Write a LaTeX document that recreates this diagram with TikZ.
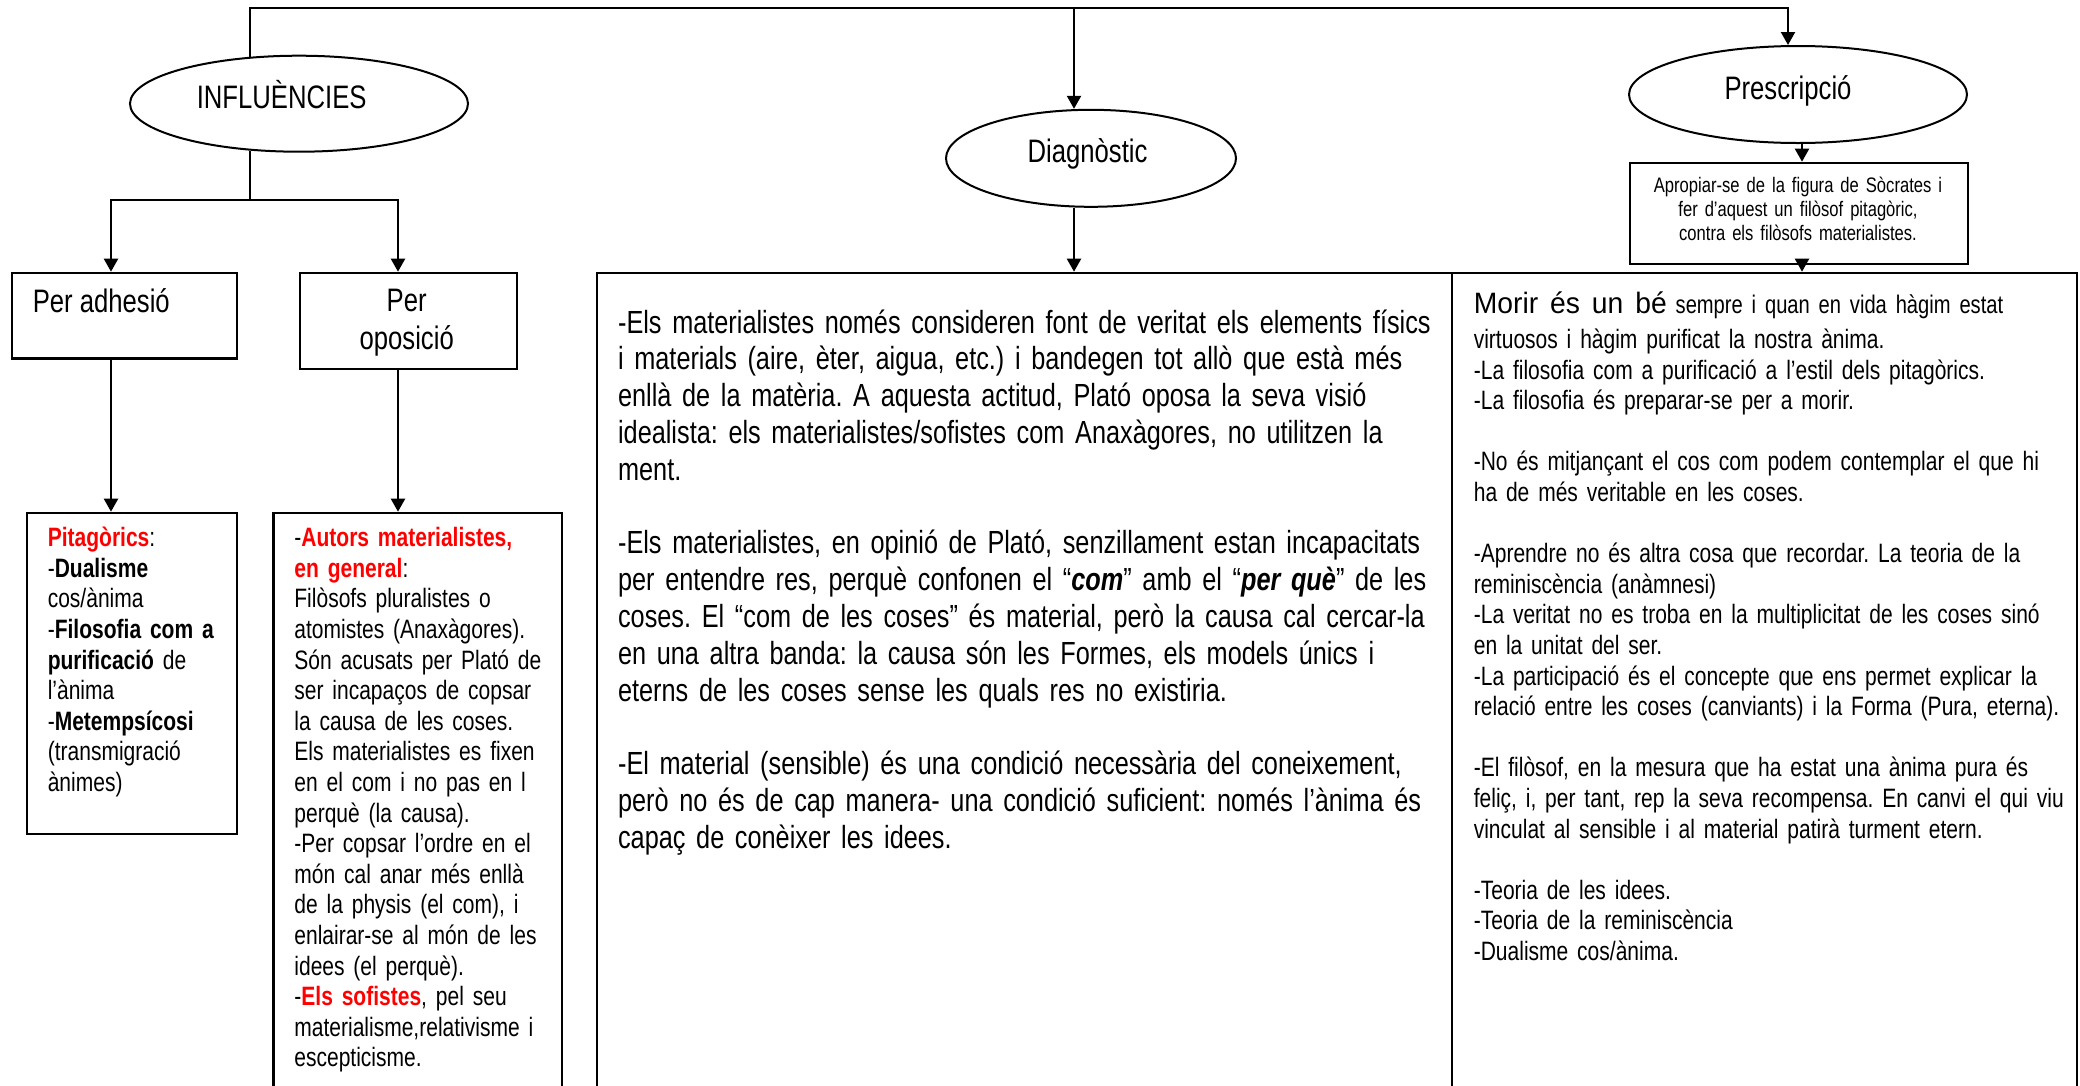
\documentclass[tikz,border=0pt]{standalone}
\usepackage{fontspec}
\setmainfont{Liberation Sans}[FakeStretch=0.79]
\usepackage{graphicx}
\usepackage{xcolor}
\usepackage{tikz}
\usetikzlibrary{positioning}
\usetikzlibrary{arrows.meta,shapes}

\newcommand{\bigsize}{\fontsize{32.5}{37.6}\selectfont}
\newcommand{\bodysize}{\fontsize{32}{36.8}\selectfont}
\newcommand{\medsize}{\fontsize{26.6}{30.6}\selectfont}
\newcommand{\smallsize}{\fontsize{21}{24}\selectfont}
\newcommand{\redbf}[1]{\textcolor{red}{\textbf{#1}}}
\frenchspacing

\begin{document}
\begin{tikzpicture}[x=1pt, y=-1pt, line width=2.2pt,
    >={Triangle[length=13pt,width=14pt]},
    oval/.style={ellipse, draw, line width=2pt, inner sep=0pt},
    box/.style={rectangle, draw, line width=2.4pt, anchor=north west, inner sep=0pt},
    txt/.style={anchor=base west, align=left, inner sep=0pt}]

  \useasboundingbox (0,0) rectangle (2080,1085);
  \fill[white] (0,0) rectangle (2080,1085);
  \clip (0,0) rectangle (2080,1085);

  % ovals
  \node[oval, minimum width=338pt, minimum height=96pt] (infl) at (299,103.7) {};
  \node[oval, minimum width=290pt, minimum height=97pt] (diag) at (1091,158.3) {};
  \node[oval, minimum width=338pt, minimum height=97pt] (presc) at (1798,94.5) {};
  \node[font=\bigsize, anchor=base, inner sep=0pt] (infltxt) at (281.7,108) {INFLUÈNCIES};
  \node[font=\bigsize, anchor=base, inner sep=0pt] (diagtxt) at (1087.5,162.7) {Diagnòstic};
  \node[font=\bigsize, anchor=base, inner sep=0pt] (presctxt) at (1788,99.3) {Prescripció};

  % boxes
  \node[box, minimum width=224.7pt, minimum height=85.6pt] (adh) at (11,271.7) {};
  \node[box, minimum width=216.7pt, minimum height=96pt] (opo) at (299,271.7) {};
  \node[box, minimum width=210pt, minimum height=320.8pt] (pita) at (25.7,511.7) {};
  \node[box, minimum width=288.7pt, minimum height=600pt] (auto) at (272.3,511.7) {};
  \node[box, minimum width=855pt, minimum height=840pt] (diagbox) at (596,271.7) {};
  \node[box, minimum width=625pt, minimum height=840pt] (rightbox) at (1451,271.7) {};
  \node[box, minimum width=338pt, minimum height=101pt] (smallbox) at (1629,161.7) {};

  % connectors
  \coordinate (busR) at (1788,8);
  \coordinate (busM) at (1074,8);
  \coordinate (forkL) at (111,200);
  \coordinate (forkR) at (398,200);
  \coordinate (drop) at (1802,150);
  \draw[->] (infl.136) |- (busR) -- (busR |- presc.north);
  \draw[->] (busM) -- (busM |- diag.north);
  \draw[->] (busM |- diag.south) -- (busM |- diagbox.north);
  \draw[->] (infl.224) |- (forkL) -- (forkL |- adh.north);
  \draw[->] (infl.224) |- (forkR) -- (forkR |- opo.north);
  \draw[->] (forkL |- adh.south) -- (forkL |- pita.north);
  \draw[->] (forkR |- opo.south) -- (forkR |- auto.north);
  \draw[->] (drop |- presc.south) -- (drop |- smallbox.north);
  \draw[->] (drop |- smallbox.south) -- (drop |- rightbox.north);

  % texts
  \node[txt, font=\bigsize] (adhtxt) at (31.7,312.7) {Per adhesió};
  \node[font=\bigsize, anchor=base, align=center, text width=200pt, inner sep=0pt] (opotxt) at (406.7,311.7) {Per\\oposició};
  \node[font=\smallsize, anchor=base, align=center, text width=330pt, inner sep=0pt] (smalltxt) at (1798,192) {Apropiar-se de la figura de Sòcrates i\\
fer d’aquest un filòsof pitagòric,\\
contra els filòsofs materialistes.};

  \node[txt, font=\medsize, text width=200pt] (pitatxt) at (46.7,546.7) {\redbf{Pitagòrics}:\\
-\textbf{Dualisme}\\
cos/ànima\\
-\textbf{Filosofia com a}\\
\textbf{purificació} de\\
l’ànima\\
-\textbf{Metempsícosi}\\
(transmigració\\
ànimes)};

  \node[txt, font=\medsize, text width=300pt] (autotxt) at (293.3,546.7) {-\redbf{Autors materialistes,}\\
\redbf{en general}:\\
Filòsofs pluralistes o\\
atomistes (Anaxàgores).\\
Són acusats per Plató de\\
ser incapaços de copsar\\
la causa de les coses.\\
Els materialistes es fixen\\
en el com i no pas en l\\
perquè (la causa).\\
-Per copsar l’ordre en el\\
món cal anar més enllà\\
de la physis (el com), i\\
enlairar-se al món de les\\
idees (el perquè).\\
-\redbf{Els sofistes}, pel seu\\
materialisme,relativisme i\\
escepticisme.};

  \node[txt, font=\bodysize, text width=845pt] (diagbody) at (617,333) {-Els materialistes només consideren font de veritat els elements físics\\
i materials (aire, èter, aigua, etc.) i bandegen tot allò que està més\\
enllà de la matèria. A aquesta actitud, Plató oposa la seva visió\\
idealista: els materialistes/sofistes com Anaxàgores, no utilitzen la\\
ment.\\[36.8pt]
-Els materialistes, en opinió de Plató, senzillament estan incapacitats\\
per entendre res, perquè confonen el “\textbf{\textit{com}}” amb el “\textbf{\textit{per què}}” de les\\
coses. El “com de les coses” és material, però la causa cal cercar-la\\
en una altra banda: la causa són les Formes, els models únics i\\
eterns de les coses sense les quals res no existiria.\\[36.8pt]
-El material (sensible) és una condició necessària del coneixement,\\
però no és de cap manera- una condició suficient: només l’ànima és\\
capaç de conèixer les idees.};

  \node[txt, font=\medsize, text width=620pt] (rightbody) at (1472.7,313.3) {\resizebox{193pt}{21.7pt}{Morir és un bé}{\fontsize{25.5}{29}\selectfont\ sempre i quan en vida hàgim estat}\\[4.5pt]
virtuosos i hàgim purificat la nostra ànima.\\
-La filosofia com a purificació a l’estil dels pitagòrics.\\
-La filosofia és preparar-se per a morir.\\[30.6pt]
-No és mitjançant el cos com podem contemplar el que hi\\
ha de més veritable en les coses.\\[30.6pt]
-Aprendre no és altra cosa que recordar. La teoria de la\\
reminiscència (anàmnesi)\\
-La veritat no es troba en la multiplicitat de les coses sinó\\
en la unitat del ser.\\
-La participació és el concepte que ens permet explicar la\\
relació entre les coses (canviants) i la Forma (Pura, eterna).\\[30.6pt]
-El filòsof, en la mesura que ha estat una ànima pura és\\
feliç, i, per tant, rep la seva recompensa. En canvi el qui viu\\
vinculat al sensible i al material patirà turment etern.\\[30.6pt]
-Teoria de les idees.\\
-Teoria de la reminiscència\\
-Dualisme cos/ànima.};
\end{tikzpicture}
\end{document}
